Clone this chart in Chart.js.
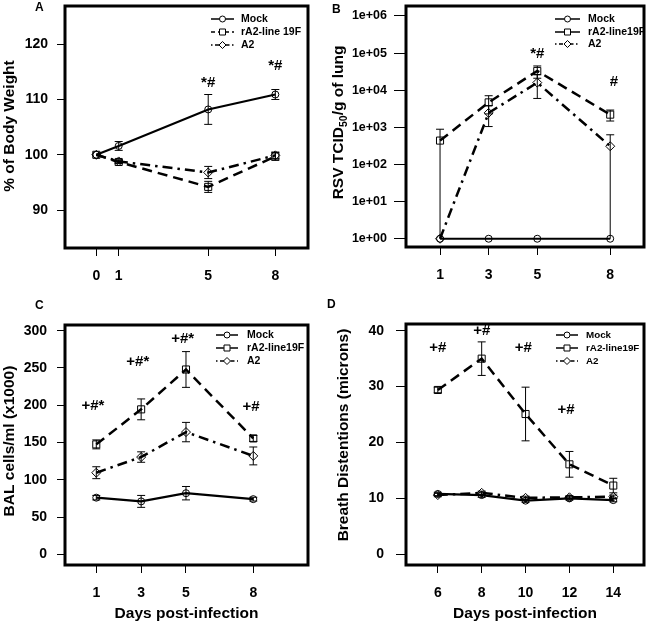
<!DOCTYPE html>
<html>
<head>
<meta charset="utf-8">
<script src="https://cdn.jsdelivr.net/npm/chart.js@4.4.1/dist/chart.umd.min.js"></script>
<style>
html, body { margin: 0; padding: 0; background: #fff; }
#wrap { position: relative; width: 650px; height: 621px; overflow: hidden; }
.pane { position: absolute; }
.tag { position: absolute; font: bold 12px "Liberation Sans", Arial, sans-serif; line-height: 12px; color: #000; }
</style>
</head>
<body>
<div id="wrap">
  <div class="pane" style="left:0;top:0"><canvas id="cA" width="325" height="310"></canvas></div>
  <div class="pane" style="left:325px;top:0"><canvas id="cB" width="325" height="310"></canvas></div>
  <div class="pane" style="left:0;top:310px"><canvas id="cC" width="325" height="311"></canvas></div>
  <div class="pane" style="left:325px;top:310px"><canvas id="cD" width="325" height="311"></canvas></div>
  <div class="tag" style="left:35px;top:1px">A</div>
  <div class="tag" style="left:332px;top:3px">B</div>
  <div class="tag" style="left:35px;top:299px">C</div>
  <div class="tag" style="left:327px;top:298px">D</div>
</div>
<script>
const FONT = '"Liberation Sans", Arial, sans-serif';
Chart.defaults.font.family = FONT;
Chart.defaults.color = '#000';

// ---- panel A: body weight
const daysA = [0, 1, 5, 8];
const mockA = [100, 101.6, 108.2, 110.9];
const mockA_sd = [0, 0.8, 2.7, 0.9];
const rA2A = [100, 98.7, 94.2, 99.7];
const rA2A_sd = [0, 0.3, 1.0, 0.7];
const a2A = [100, 98.8, 96.8, 99.9];
const a2A_sd = [0, 0.3, 1.1, 0.6];
const yTicksA = [90, 100, 110, 120];
const noteTextA = ['*#', '*#'];
const noteXA = [5, 8];
const noteYA = [113, 116];
const legendA = ['Mock', 'rA2-line 19F', 'A2'];

// ---- panel B: lung titre (log)
const daysB = [1, 3, 5, 8];
const mockB = [1, 1, 1, 1];
const mockB_sd = [0, 0, 0, 0];
const rA2B = [440, 4700, 33000, 2200];
const rA2B_sd = [450, 2400, 12000, 720];
const a2B = [1, 2450, 16000, 310];
const a2B_sd = [0, 1400, 10000, 320];
const yTicksB = [1, 10, 100, 1000, 10000, 100000, 1000000];
const noteTextB = ['*#', '#'];
const noteXB = [5, 8.15];
const noteYB = [94000, 16300];
const legendB = ['Mock', 'rA2-line19F', 'A2'];

// ---- panel C: BAL cells
const daysC = [1, 3, 5, 8];
const mockC = [76, 71, 82, 74];
const mockC_sd = [3, 8, 9, 2.5];
const rA2C = [147.5, 194.5, 248, 155.5];
const rA2C_sd = [6, 14, 24, 4];
const a2C = [109.5, 130.5, 164, 132];
const a2C_sd = [8, 7, 13, 12];
const yTicksC = [0, 50, 100, 150, 200, 250, 300];
const noteTextC = ['+#*', '+#*', '+#*', '+#'];
const noteXC = [0.85, 2.85, 4.85, 7.9];
const noteYC = [199, 258, 289, 198];
const legendC = ['Mock', 'rA2-line19F', 'A2'];

// ---- panel D: breath distentions
const daysD = [6, 8, 10, 12, 14];
const mockD = [10.8, 10.6, 9.6, 10.0, 9.7];
const mockD_sd = [0.3, 0.4, 0.3, 0.3, 0.3];
const rA2D = [29.4, 35.0, 25.1, 16.1, 12.3];
const rA2D_sd = [0.5, 3.0, 4.8, 2.3, 1.3];
const a2D = [10.6, 11.0, 10.1, 10.2, 10.3];
const a2D_sd = [0.3, 0.3, 0.3, 0.3, 0.3];
const yTicksD = [0, 10, 20, 30, 40];
const noteTextD = ['+#', '+#', '+#', '+#'];
const noteXD = [6, 8, 9.9, 11.85];
const noteYD = [36.85, 40, 36.85, 25.8];
const legendD = ['Mock', 'rA2-line19F', 'A2'];

const MARKERS = ['circle', 'rect', 'rectRot'];
const RADII = [3.5, 5, 4.5];
const LINE_DASH = [[], [10, 6], [10, 5, 2.5, 5]];
const LINE_W = [2.2, 2.5, 2.5];

function marker(ctx, style, x, y, r) {
  ctx.beginPath();
  if (style === 'circle') ctx.arc(x, y, r, 0, Math.PI * 2);
  else if (style === 'rect') ctx.rect(x - r, y - r, 2 * r, 2 * r);
  else { ctx.moveTo(x, y - r); ctx.lineTo(x + r, y); ctx.lineTo(x, y + r); ctx.lineTo(x - r, y); ctx.closePath(); }
  ctx.stroke();
}

function extras(p) {
  return {
    id: 'extras',
    afterDatasetsDraw(chart) {
      const ctx = chart.ctx, a = chart.chartArea;
      const xs = chart.scales.x, ys = chart.scales.y;
      ctx.save();
      ctx.strokeStyle = '#000';
      ctx.fillStyle = '#000';
      ctx.setLineDash([]);
      // error bars
      ctx.lineWidth = 1;
      p.vals.forEach((vals, k) => {
        vals.forEach((v, i) => {
          const sd = p.sds[k][i];
          if (!sd) return;
          const x = xs.getPixelForValue(p.days[i]);
          const clipped = p.floor !== undefined && v - sd < p.floor;
          const yt = ys.getPixelForValue(v + sd);
          const yb = ys.getPixelForValue(clipped ? p.floor : v - sd);
          ctx.beginPath();
          ctx.moveTo(x, yt); ctx.lineTo(x, yb);
          ctx.moveTo(x - 4, yt); ctx.lineTo(x + 4, yt);
          if (!clipped) { ctx.moveTo(x - 4, yb); ctx.lineTo(x + 4, yb); }
          ctx.stroke();
        });
      });
      // frame
      ctx.lineWidth = 3;
      ctx.strokeRect(a.left, a.top, a.right - a.left, a.bottom - a.top);
      // significance marks
      ctx.font = 'bold 15px ' + FONT;
      ctx.textAlign = 'center';
      ctx.textBaseline = 'middle';
      p.noteText.forEach((t, i) => {
        ctx.fillText(t, xs.getPixelForValue(p.noteX[i]), ys.getPixelForValue(p.noteY[i]));
      });
      // legend
      const L = p.leg;
      ctx.font = 'bold ' + L.size + 'px ' + FONT;
      ctx.textAlign = 'left';
      p.legend.forEach((t, i) => {
        const y = L.ys[i];
        ctx.lineWidth = 1.5;
        ctx.setLineDash(L.dash[i]);
        ctx.beginPath(); ctx.moveTo(L.x1, y); ctx.lineTo(L.x2, y); ctx.stroke();
        ctx.setLineDash([]);
        ctx.lineWidth = 1;
        ctx.fillStyle = '#fff';
        const mx = (L.x1 + L.x2) / 2;
        ctx.beginPath(); ctx.arc(mx, y, 3.2, 0, Math.PI * 2); ctx.fill();
        ctx.fillStyle = '#000';
        marker(ctx, MARKERS[i], mx, y, [3, 3, 3.5][i]);
        ctx.fillText(t, L.tx, y + 0.5);
      });
      // y-axis title
      ctx.save();
      ctx.translate(p.ytitle.x, p.ytitle.y);
      ctx.rotate(-Math.PI / 2);
      ctx.textAlign = 'left';
      ctx.textBaseline = 'alphabetic';
      const parts = p.ytitle.parts;
      let w = 0;
      parts.forEach(pt => { ctx.font = 'bold ' + pt.size + 'px ' + FONT; w += ctx.measureText(pt.text).width; });
      let cx = -w / 2;
      parts.forEach(pt => {
        ctx.font = 'bold ' + pt.size + 'px ' + FONT;
        ctx.fillText(pt.text, cx, 5.5 + (pt.sub ? 4 : 0));
        cx += ctx.measureText(pt.text).width;
      });
      ctx.restore();
      ctx.restore();
    }
  };
}

function panel(id, p) {
  return new Chart(document.getElementById(id), {
    type: 'line',
    data: {
      datasets: p.vals.map((vals, k) => ({
        label: p.legend[k],
        data: p.days.map((d, i) => ({ x: d, y: vals[i] })),
        borderColor: '#000',
        borderWidth: LINE_W[k],
        borderDash: LINE_DASH[k],
        pointStyle: MARKERS[k],
        pointRadius: RADII[k],
        pointBorderColor: '#000',
        pointBorderWidth: 1,
        pointBackgroundColor: 'rgba(0,0,0,0)',
        tension: 0,
        fill: false,
        clip: false
      }))
    },
    options: {
      responsive: false,
      animation: false,
      devicePixelRatio: 1,
      layout: { padding: p.pad },
      plugins: { legend: { display: false }, tooltip: { enabled: false } },
      scales: {
        x: {
          type: 'linear', position: 'bottom', min: p.xMin, max: p.xMax,
          afterBuildTicks: s => { s.ticks = p.days.map(v => ({ value: v })); },
          afterFit: s => { s.height = p.xH; s.paddingLeft = 0; s.paddingRight = 0; },
          grid: { drawOnChartArea: false, color: '#000', lineWidth: 1, tickLength: 8 },
          border: { display: false },
          ticks: { autoSkip: false, maxRotation: 0, padding: 12, font: { size: 14, weight: 'bold' } },
          title: p.xTitle ? { display: true, text: p.xTitle, font: { size: 15.5, weight: 'bold', lineHeight: 1 }, padding: { top: 0, bottom: 0 } } : { display: false }
        },
        y: {
          type: p.log ? 'logarithmic' : 'linear', position: 'left', min: p.yMin, max: p.yMax,
          afterBuildTicks: s => { s.ticks = p.yTicks.map(v => ({ value: v })); },
          afterFit: s => { s.width = p.yW; s.paddingTop = 0; s.paddingBottom = 0; },
          grid: { drawOnChartArea: false, color: '#000', lineWidth: 1, tickLength: p.yTick },
          border: { display: false },
          ticks: {
            autoSkip: false, padding: p.yPad,
            font: { size: p.yFont, weight: 'bold' },
            callback: p.log ? (v => '1e+' + String(Math.round(Math.log10(v))).padStart(2, '0')) : (v => String(v))
          }
        }
      }
    },
    plugins: [extras(p)]
  });
}

const dashA = [[], [4, 3], [1.5, 2.5, 4, 2.5]];
const dashBCD = [[], [], [1.5, 2.5, 4, 2.5]];

panel('cA', {
  days: daysA, vals: [mockA, rA2A, a2A], sds: [mockA_sd, rA2A_sd, a2A_sd],
  yTicks: yTicksA, legend: legendA, noteText: noteTextA, noteX: noteXA, noteY: noteYA,
  xMin: -1.4, xMax: 9.46, yMin: 83.15, yMax: 126.9,
  pad: { top: 5, right: 17, left: 0, bottom: 0 }, xH: 62, yW: 65, yTick: 8, yPad: 9, yFont: 14,
  leg: { x1: 211, x2: 234, tx: 241, ys: [19, 32, 45], dash: dashA, size: 10.5 },
  ytitle: { x: 8, y: 126, parts: [{ text: '% of Body Weight', size: 15.5 }] }
});

panel('cB', {
  days: daysB, vals: [mockB, rA2B, a2B], sds: [mockB_sd, rA2B_sd, a2B_sd], floor: 1, log: true,
  yTicks: yTicksB, legend: legendB, noteText: noteTextB, noteX: noteXB, noteY: noteYB,
  xMin: -0.4, xMax: 9.39, yMin: 0.599, yMax: 1853000,
  pad: { top: 5, right: 2, left: 0, bottom: 0 }, xH: 63, yW: 81, yTick: 12, yPad: 7, yFont: 12.5,
  leg: { x1: 230, x2: 255, tx: 263, ys: [19, 32, 44], dash: dashBCD, size: 10.5 },
  ytitle: { x: 12, y: 122.5, parts: [{ text: 'RSV TCID', size: 15.5 }, { text: '50', size: 10.5, sub: true }, { text: '/g of lung', size: 15.5 }] }
});

panel('cC', {
  days: daysC, vals: [mockC, rA2C, a2C], sds: [mockC_sd, rA2C_sd, a2C_sd],
  yTicks: yTicksC, legend: legendC, noteText: noteTextC, noteX: noteXC, noteY: noteYC,
  xMin: -0.395, xMax: 10.44, yMin: -14.36, yMax: 307.7, xTitle: 'Days post-infection',
  pad: { top: 15, right: 17, left: 0, bottom: 0 }, xH: 56, yW: 65, yTick: 8, yPad: 10, yFont: 14,
  leg: { x1: 216, x2: 238, tx: 247, ys: [25, 38, 51], dash: dashBCD, size: 10.5 },
  ytitle: { x: 8, y: 131, parts: [{ text: 'BAL cells/ml (x1000)', size: 15.5 }] }
});

panel('cD', {
  days: daysD, vals: [mockD, rA2D, a2D], sds: [mockD_sd, rA2D_sd, a2D_sd],
  yTicks: yTicksD, legend: legendD, noteText: noteTextD, noteX: noteXD, noteY: noteYD,
  xMin: 4.55, xMax: 15.4, yMin: -1.91, yMax: 41.2, xTitle: 'Days post-infection',
  pad: { top: 14, right: 2, left: 0, bottom: 0 }, xH: 56, yW: 81, yTick: 10, yPad: 12, yFont: 14,
  leg: { x1: 231, x2: 253, tx: 261, ys: [25, 38, 51], dash: dashBCD, size: 9.8 },
  ytitle: { x: 17, y: 125, parts: [{ text: 'Breath Distentions (microns)', size: 15.5 }] }
});
</script>
</body>
</html>
